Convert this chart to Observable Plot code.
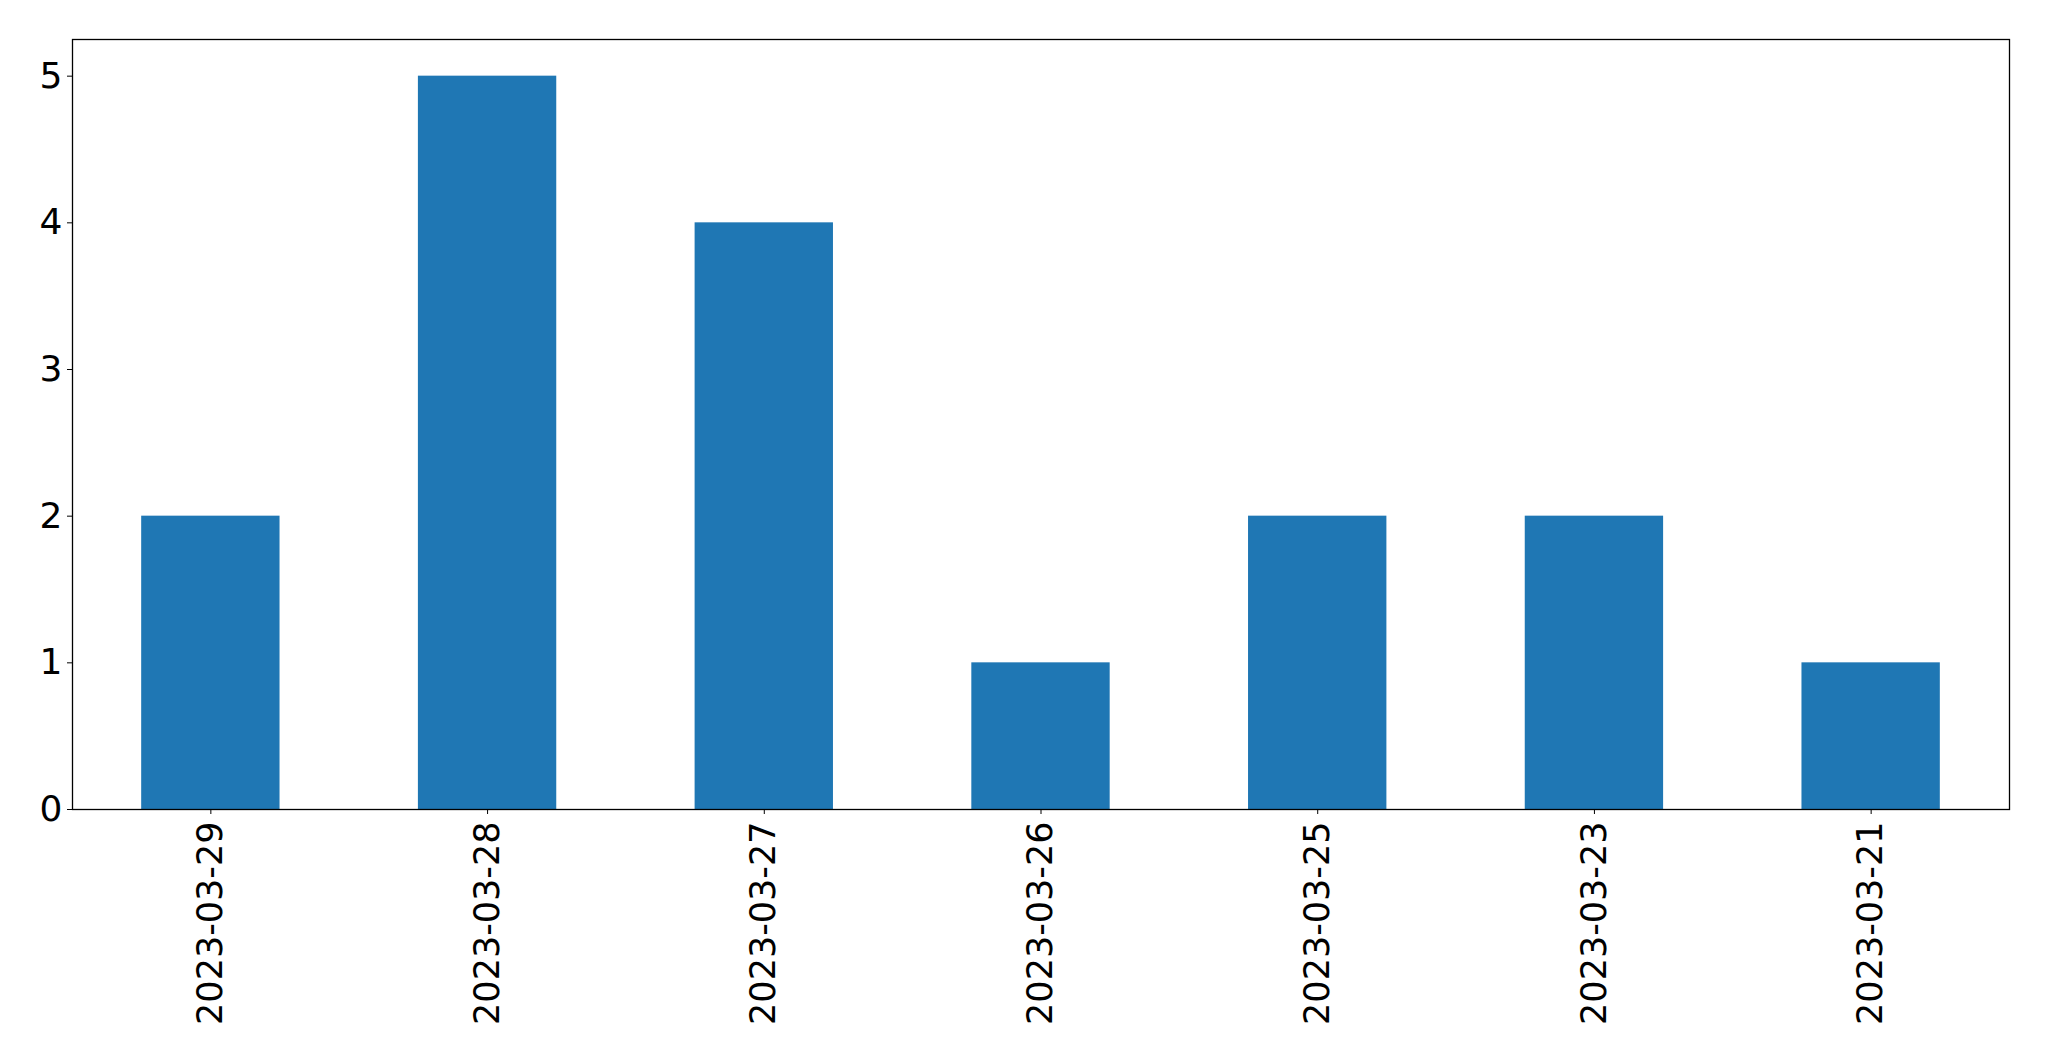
<!DOCTYPE html>
<html>
<head>
<meta charset="utf-8">
<script src="https://cdn.jsdelivr.net/npm/d3@7"></script>
<script src="https://cdn.jsdelivr.net/npm/@observablehq/plot@0.6"></script>
<style>
  html, body { margin: 0; padding: 0; background: #fff; }
</style>
</head>
<body>
<div id="chart"></div>
<script>
const dates = ["2023-03-29", "2023-03-28", "2023-03-27", "2023-03-26", "2023-03-25", "2023-03-23", "2023-03-21"];
const counts = [2, 5, 4, 1, 2, 2, 1];
const yTicks = [0, 1, 2, 3, 4, 5];

const data = dates.map((d, i) => ({date: d, count: counts[i]}));

const chart = Plot.plot({
  width: 2049,
  height: 1061,
  marginLeft: 72,
  marginRight: 40,
  marginTop: 39,
  marginBottom: 252,
  style: {fontFamily: "DejaVu Sans", fontSize: "35px", color: "#000", background: "#fff", overflow: "visible"},
  x: {domain: dates, paddingInner: 0.5, paddingOuter: 0.25, round: false, label: null},
  y: {domain: [0, 5.25], label: null},
  marks: [
    Plot.barY(data, {x: "date", y: "count", fill: "#1f77b4"}),
    Plot.axisY({ticks: yTicks, tickSize: 5, tickPadding: 5, fontSize: 36, label: null, tickFormat: d3.format("d")}),
    Plot.axisX({tickSize: 5, tickPadding: 7, tickRotate: -90, fontSize: 35, label: null}),
    Plot.frame({stroke: "#000", strokeWidth: 1.3})
  ]
});
document.getElementById("chart").appendChild(chart);
</script>
</body>
</html>
